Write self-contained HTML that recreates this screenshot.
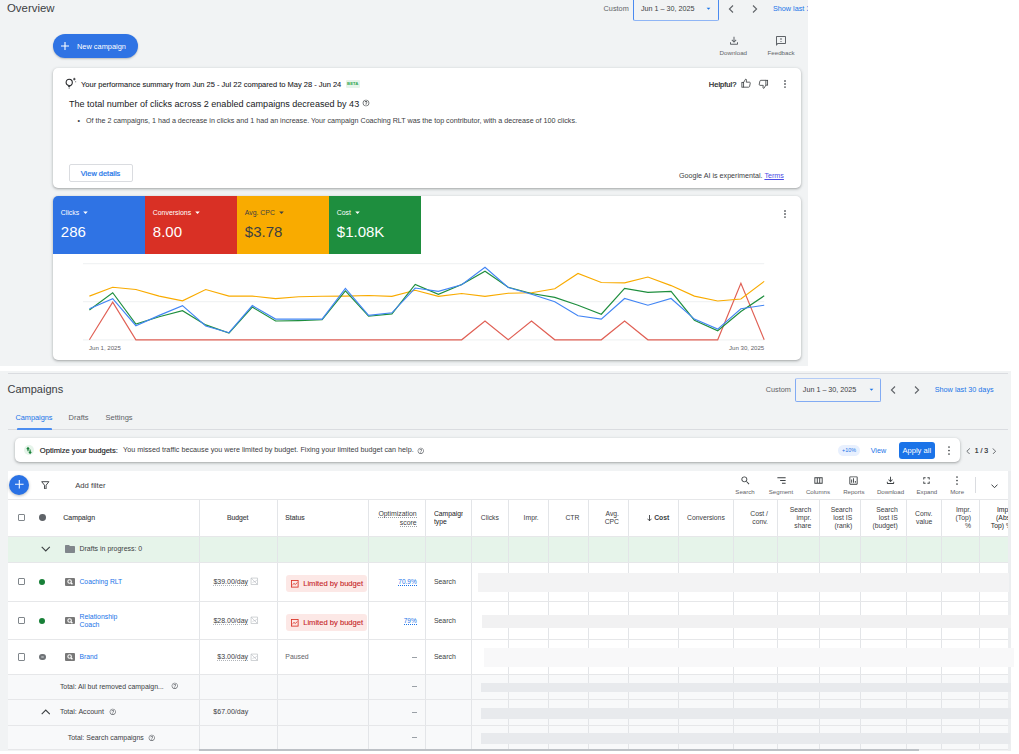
<!DOCTYPE html>
<html><head><meta charset="utf-8">
<style>
*{box-sizing:border-box;margin:0;padding:0}
html,body{width:1019px;height:754px;overflow:hidden;background:#fff;font-family:"Liberation Sans",sans-serif;color:#3c4043}
.a{position:absolute}
.t{position:absolute;white-space:nowrap;line-height:10px;height:10px}
svg{display:block}
#top{position:absolute;left:0;top:0;width:808px;height:366px;background:#f1f3f4;overflow:hidden}
#bot{position:absolute;left:0;top:371px;width:1010.6px;height:379.6px;background:#f1f3f4}
.card{position:absolute;background:#fff;border-radius:5px;box-shadow:0 1px 2px rgba(60,64,67,.3),0 1px 3px 1px rgba(60,64,67,.12)}
.blue{color:#1a73e8}
.g5{color:#5f6368}
</style></head><body>

<!-- ============ TOP SECTION ============ -->
<div id="top">
  <div class="t" style="left:7px;top:2px;font-size:11.4px;line-height:12px;height:12px;color:#3c4043">Overview</div>

  <div class="t g5" style="left:603.6px;top:3.7px;font-size:7.3px">Custom</div>
  <div class="a" style="left:633px;top:-4px;width:86px;height:24.5px;border:1px solid #4a8af0;border-bottom-color:#8fb5f5;border-radius:2px;background:#f1f3f4"></div>
  <div class="t" style="left:641px;top:3.7px;font-size:7.2px;color:#3c4043">Jun 1 – 30, 2025</div>
  <svg class="a" style="left:704px;top:4px" width="9" height="9" viewBox="0 0 24 24"><path d="M7 10l5 5 5-5z" fill="#1a73e8"/></svg>
  <svg class="a" style="left:728px;top:4.5px" width="6" height="8" viewBox="0 0 6 8"><path d="M5 0.5L1.4 4 5 7.5" fill="none" stroke="#5f6368" stroke-width="1.1"/></svg><svg class="a" style="left:751.8px;top:4.5px" width="6" height="8" viewBox="0 0 6 8"><path d="M1 0.5L4.6 4 1 7.5" fill="none" stroke="#5f6368" stroke-width="1.1"/></svg>
  <div class="t blue" style="left:772.9px;top:3.7px;font-size:7.27px">Show last 30 days</div>

  <!-- download / feedback -->
  <svg class="a" style="left:727.8px;top:34.8px" width="12" height="12" viewBox="0 0 24 24"><path d="M12 15.6L7 10.6l1.4-1.45 2.6 2.6V3.6h2v8.15l2.6-2.6L17 10.6zM6 19.6c-.55 0-1.02-.2-1.41-.59C4.2 18.62 4 18.15 4 17.6v-3h2v3h12v-3h2v3c0 .55-.2 1.02-.59 1.41-.39.39-.86.59-1.41.59z" fill="#5f6368"/></svg>
  <div class="t g5" style="left:719.5px;top:48px;font-size:6.2px">Download</div>
  <svg class="a" style="left:775px;top:35px" width="12" height="12" viewBox="0 0 24 24"><path d="M20 2H4c-1.1 0-1.99.9-1.99 2L2 22l4-4h14c1.1 0 2-.9 2-2V4c0-1.1-.9-2-2-2zm0 14H5.17L4 17.17V4h16v12zM11 12h2v2h-2zm0-6h2v4h-2z" fill="#5f6368"/></svg>
  <div class="t g5" style="left:767.5px;top:48px;font-size:6.2px">Feedback</div>

  <!-- new campaign -->
  <div class="a" style="left:53px;top:34px;width:85px;height:24px;border-radius:12px;background:#2f73e4;box-shadow:0 1px 2px rgba(60,64,67,.3)"></div>
  <svg class="a" style="left:61px;top:42.4px" width="8" height="8" viewBox="0 0 8 8"><path d="M4 0v8M0 4h8" stroke="#fff" stroke-width="1.1"/></svg>
  <div class="t" style="left:77px;top:41.5px;font-size:7.4px;color:#fff">New campaign</div>

  <!-- AI card -->
  <div class="card" style="left:53px;top:68px;width:747.5px;height:120px"></div>
  <svg class="a" style="left:64px;top:77px" width="14" height="13" viewBox="0 0 14 13"><circle cx="5.2" cy="5.4" r="3.1" fill="none" stroke="#202124" stroke-width="1.05"/><path d="M3.8 8.1h2.8l-.45 2H4.25z" fill="#3c4043"/><path d="M4.6 11h1.2" stroke="#3c4043" stroke-width="0.9"/><path d="M10.3 0.8v2.6M9 2.1h2.6" stroke="#202124" stroke-width="0.8"/><circle cx="11.7" cy="4.7" r="0.5" fill="#3c4043"/></svg>
  <div class="t" style="left:81px;top:79.8px;font-size:7.5px;color:#202124;-webkit-text-stroke:0.08px #202124">Your performance summary from Jun 25 - Jul 22 compared to May 28 - Jun 24</div>
  <div class="a" style="left:345.8px;top:79.9px;width:13.9px;height:7.9px;background:#e6f4ea;border-radius:1px"></div><div class="t" style="left:345.8px;width:13.9px;text-align:center;top:78.6px;font-size:4.3px;font-weight:700;color:#34a853">BETA</div>
  <div class="t" style="left:69px;top:98.5px;font-size:9.05px;color:#202124">The total number of clicks across 2 enabled campaigns decreased by 43</div>
  <svg class="a" style="left:361.5px;top:98.5px" width="8" height="8" viewBox="0 0 24 24"><path d="M11 18h2v-2h-2v2zm1-16C6.48 2 2 6.48 2 12s4.48 10 10 10 10-4.48 10-10S17.52 2 12 2zm0 18c-4.41 0-8-3.59-8-8s3.59-8 8-8 8 3.59 8 8-3.59 8-8 8zm0-14c-2.21 0-4 1.79-4 4h2c0-1.1.9-2 2-2s2 .9 2 2c0 2-3 1.75-3 5h2c0-2.25 3-2.5 3-5 0-2.21-1.79-4-4-4z" fill="#3c4043"/></svg>
  <div class="t" style="left:77.5px;top:116.2px;font-size:7.17px;color:#3c4043">•&nbsp;&nbsp;&nbsp;Of the 2 campaigns, 1 had a decrease in clicks and 1 had an increase. Your campaign Coaching RLT was the top contributor, with a decrease of 100 clicks.</div>

  <div class="a" style="left:68.6px;top:164.2px;width:64px;height:17.7px;border:1px solid #dadce0;border-radius:2px"></div>
  <div class="t blue" style="left:80.8px;top:168.8px;font-size:7.43px;-webkit-text-stroke:0.2px #1a73e8">View details</div>

  <div class="t" style="left:679px;top:171px;font-size:7.17px;color:#3c4043">Google AI is experimental. <span style="color:#4c4ce6;text-decoration:underline">Terms</span></div>

  <div class="t" style="left:708.8px;top:79.8px;font-size:7.5px;color:#202124;-webkit-text-stroke:0.2px #202124">Helpful?</div>
  <svg class="a" style="left:741px;top:78.3px" width="10.5" height="10.5" viewBox="0 0 24 24"><rect x="2" y="10" width="4" height="11" fill="none" stroke="#3c4043" stroke-width="1.9"/><path d="M6 10L10.5 2.6c1.4 0 2.5 1 2.2 2.5L12 9.5h7.4c1.2 0 2 1 1.8 2.2l-1.5 7.4c-.2 1.1-1.1 1.9-2.2 1.9H6" fill="none" stroke="#3c4043" stroke-width="1.9" stroke-linejoin="round"/></svg><svg class="a" style="left:758.2px;top:79.3px;transform:rotate(180deg)" width="10.5" height="10.5" viewBox="0 0 24 24"><rect x="2" y="10" width="4" height="11" fill="none" stroke="#3c4043" stroke-width="1.9"/><path d="M6 10L10.5 2.6c1.4 0 2.5 1 2.2 2.5L12 9.5h7.4c1.2 0 2 1 1.8 2.2l-1.5 7.4c-.2 1.1-1.1 1.9-2.2 1.9H6" fill="none" stroke="#3c4043" stroke-width="1.9" stroke-linejoin="round"/></svg>
  <svg class="a" style="left:782.90px;top:78.80px" width="4" height="10.10" viewBox="0 0 4 10.10"><circle cx="2" cy="2" r="0.95" fill="#5f6368"/><circle cx="2" cy="5.05" r="0.95" fill="#5f6368"/><circle cx="2" cy="8.10" r="0.95" fill="#5f6368"/></svg>

  <!-- Chart card -->
  <div class="card" style="left:53px;top:196px;width:747.5px;height:164px;overflow:hidden">
    <div class="a" style="left:0;top:0;width:92px;height:58px;background:#2f73e4"></div>
    <div class="a" style="left:92px;top:0;width:92px;height:58px;background:#d93025"></div>
    <div class="a" style="left:184px;top:0;width:92px;height:58px;background:#f9ab00"></div>
    <div class="a" style="left:276px;top:0;width:91.5px;height:58px;background:#1e8e3e"></div>
  </div>
  <div id="tiles"><div class="t" style="left:60.8px;top:206.8px;font-size:6.9px;color:#fff">Clicks<svg style="display:inline-block;vertical-align:-3px;margin-left:1px" width="11" height="11" viewBox="0 0 24 24"><path d="M7 10l5 5 5-5z" fill="#fff"/></svg></div><div class="t" style="left:60.8px;top:224.1px;font-size:15px;line-height:16px;height:16px;color:#fff">286</div><div class="t" style="left:152.8px;top:206.8px;font-size:6.9px;color:#fff">Conversions<svg style="display:inline-block;vertical-align:-3px;margin-left:1px" width="11" height="11" viewBox="0 0 24 24"><path d="M7 10l5 5 5-5z" fill="#fff"/></svg></div><div class="t" style="left:152.8px;top:224.1px;font-size:15px;line-height:16px;height:16px;color:#fff">8.00</div><div class="t" style="left:244.8px;top:206.8px;font-size:6.9px;color:#3c4043">Avg. CPC<svg style="display:inline-block;vertical-align:-3px;margin-left:1px" width="11" height="11" viewBox="0 0 24 24"><path d="M7 10l5 5 5-5z" fill="#3c4043"/></svg></div><div class="t" style="left:244.8px;top:224.1px;font-size:15px;line-height:16px;height:16px;color:#3c4043">$3.78</div><div class="t" style="left:336.8px;top:206.8px;font-size:6.9px;color:#fff">Cost<svg style="display:inline-block;vertical-align:-3px;margin-left:1px" width="11" height="11" viewBox="0 0 24 24"><path d="M7 10l5 5 5-5z" fill="#fff"/></svg></div><div class="t" style="left:336.8px;top:224.1px;font-size:15px;line-height:16px;height:16px;color:#fff">$1.08K</div></div>
  <svg class="a" style="left:782.90px;top:208.80px" width="4" height="10.10" viewBox="0 0 4 10.10"><circle cx="2" cy="2" r="0.95" fill="#5f6368"/><circle cx="2" cy="5.05" r="0.95" fill="#5f6368"/><circle cx="2" cy="8.10" r="0.95" fill="#5f6368"/></svg>
  <div id="chart"><svg class="a" style="left:0;top:0" width="808" height="366"><line x1="83" y1="263.7" x2="764.2" y2="263.7" stroke="#f1f3f4" stroke-width="1.2"/><line x1="83" y1="301.7" x2="764.2" y2="301.7" stroke="#f1f3f4" stroke-width="1.2"/><line x1="83" y1="339.8" x2="764.2" y2="339.8" stroke="#f1f3f4" stroke-width="1.2"/><polyline points="89.4,339.8 112.7,302.1 135.9,339.8 159.2,339.8 182.5,339.8 205.7,339.8 229.0,339.8 252.3,339.8 275.6,339.8 298.8,339.8 322.1,339.8 345.4,339.8 368.6,339.8 391.9,339.8 415.2,339.8 438.4,339.8 461.7,339.8 485.0,321.0 508.2,339.8 531.5,321.0 554.8,339.8 578.0,339.8 601.3,339.8 624.6,321.0 647.9,339.8 671.1,339.8 694.4,339.8 717.7,339.8 740.9,283.3 764.2,339.8" fill="none" stroke="#e06055" stroke-width="1.15" stroke-linejoin="miter"/><polyline points="89.4,296.1 112.7,287.3 135.9,289.5 159.2,296.1 182.5,300.8 205.7,289.5 229.0,296.1 252.3,296.1 275.6,298.6 298.8,296.8 322.1,296.3 345.4,296.1 368.6,295.5 391.9,296.3 415.2,290.3 438.4,296.3 461.7,293.5 485.0,296.3 508.2,293.2 531.5,292.7 554.8,288.8 578.0,273.4 601.3,282.5 624.6,282.8 647.9,277.0 671.1,285.6 694.4,296.1 717.7,301.0 740.9,299.0 764.2,281.4" fill="none" stroke="#f9ab00" stroke-width="1.15" stroke-linejoin="miter"/><polyline points="89.4,310.0 112.7,292.7 135.9,324.1 159.2,316.7 182.5,310.7 205.7,324.9 229.0,333.0 252.3,307.1 275.6,321.0 298.8,320.6 322.1,319.7 345.4,290.8 368.6,316.2 391.9,313.9 415.2,284.4 438.4,294.3 461.7,284.5 485.0,271.2 508.2,287.2 531.5,293.5 554.8,297.4 578.0,305.2 601.3,314.2 624.6,288.4 647.9,292.4 671.1,291.4 694.4,320.2 717.7,330.8 740.9,311.5 764.2,295.8" fill="none" stroke="#1e8e3e" stroke-width="1.15" stroke-linejoin="miter"/><polyline points="89.4,308.7 112.7,298.6 135.9,325.7 159.2,315.4 182.5,305.6 205.7,326.0 229.0,332.7 252.3,305.6 275.6,319.1 298.8,319.1 322.1,319.1 345.4,288.3 368.6,315.4 391.9,312.8 415.2,288.0 438.4,291.4 461.7,284.8 485.0,267.2 508.2,287.5 531.5,294.3 554.8,301.8 578.0,315.8 601.3,319.1 624.6,298.5 647.9,305.2 671.1,298.5 694.4,319.1 717.7,329.1 740.9,308.7 764.2,305.2" fill="none" stroke="#4285f4" stroke-width="1.15" stroke-linejoin="miter"/></svg></div>
  <div class="t g5" style="left:89px;top:342.6px;font-size:6.1px">Jun 1, 2025</div>
  <div class="t g5" style="left:729px;top:342.8px;font-size:6.1px">Jun 30, 2025</div>
</div>

<!-- ============ BOTTOM SECTION ============ -->
<div id="bot">
<div class="a" style="left:7.5px;top:1.8px;width:1000.5px;height:1.0px;background:#dadce0"></div>
<div class="t" style="left:7.5px;top:11.9px;font-size:11px;line-height:12px;height:12px;color:#3c4043;font-weight:400;">Campaigns</div>
<div class="t" style="left:765.8px;top:13.6px;font-size:7.3px;line-height:10px;height:10px;color:#5f6368;font-weight:400;">Custom</div>
<div class="a" style="left:795.2px;top:7.0px;width:85.4px;height:23.6px;border:1px solid #82abf3;border-top-color:#b3cbf6;border-radius:2px"></div>
<div class="t" style="left:802.8px;top:13.6px;font-size:7.2px;line-height:10px;height:10px;color:#3c4043;font-weight:400;">Jun 1 – 30, 2025</div>
<svg class="a" style="left:866.5px;top:14.2px" width="9" height="9" viewBox="0 0 24 24"><path d="M7 10l5 5 5-5z" fill="#1a73e8"/></svg>
<svg class="a" style="left:890px;top:14.600000000000023px" width="6" height="8" viewBox="0 0 6 8"><path d="M5 0.5L1.4 4 5 7.5" fill="none" stroke="#5f6368" stroke-width="1.1"/></svg>
<svg class="a" style="left:913.6px;top:14.600000000000023px" width="6" height="8" viewBox="0 0 6 8"><path d="M1 0.5L4.6 4 1 7.5" fill="none" stroke="#5f6368" stroke-width="1.1"/></svg>
<div class="t" style="left:934.7px;top:13.7px;font-size:7.27px;line-height:10px;height:10px;color:#1a73e8;font-weight:400;">Show last 30 days</div>
<div class="t" style="left:15.4px;top:41.7px;font-size:7.35px;line-height:10px;height:10px;color:#1a73e8;font-weight:400;">Campaigns</div>
<div class="t" style="left:68.6px;top:41.7px;font-size:7.5px;line-height:10px;height:10px;color:#5f6368;font-weight:400;">Drafts</div>
<div class="t" style="left:105.5px;top:41.7px;font-size:7.5px;line-height:10px;height:10px;color:#5f6368;font-weight:400;">Settings</div>
<div class="a" style="left:7.5px;top:58.3px;width:1000.5px;height:1.0px;background:#dadce0"></div>
<div class="a" style="left:16.5px;top:56.8px;width:35.3px;height:2.0px;background:#4d8ef0;border-radius:1px 1px 0 0"></div>
<div class="card" style="left:15.3px;top:67.30000000000001px;width:945px;height:23.7px;border-radius:5px"></div>
<div class="a" style="left:23.5px;top:73.9px;width:10.2px;height:10.2px;background:#e6f4ea;border-radius:50%"></div>
<svg class="a" style="left:23.5px;top:73.89999999999998px" width="10.2" height="10.2" viewBox="0 0 10.2 10.2"><path d="M4 6.3V3.1M2.8 4.1L4 2.6 5.2 4.1" fill="none" stroke="#188038" stroke-width="1.1"/><path d="M6.1 4.6V7.9M4.9 6.8L6.1 8.3 7.3 6.8" fill="none" stroke="#188038" stroke-width="1.1"/></svg>
<div class="t" style="left:39.8px;top:74.6px;font-size:7.6px;line-height:10px;height:10px;color:#202124;font-weight:400;-webkit-text-stroke:0.15px #202124">Optimize your budgets:</div>
<div class="t" style="left:123.0px;top:74.3px;font-size:7.21px;line-height:10px;height:10px;color:#3c4043;font-weight:400;">You missed traffic because you were limited by budget. Fixing your limited budget can help.</div>
<svg class="a" style="left:416.7px;top:75.5px" width="7.5" height="7.5" viewBox="0 0 24 24"><path d="M11 18h2v-2h-2v2zm1-16C6.48 2 2 6.48 2 12s4.48 10 10 10 10-4.48 10-10S17.52 2 12 2zm0 18c-4.41 0-8-3.59-8-8s3.59-8 8-8 8 3.59 8 8-3.59 8-8 8zm0-14c-2.21 0-4 1.79-4 4h2c0-1.1.9-2 2-2s2 .9 2 2c0 2-3 1.75-3 5h2c0-2.25 3-2.5 3-5 0-2.21-1.79-4-4-4z" fill="#5f6368"/></svg>
<div class="a" style="left:837.7px;top:73.9px;width:22.8px;height:11.5px;background:#e8f0fe;border-radius:6px"></div>
<div class="t" style="left:837.7px;width:22.8px;text-align:center;top:73.9px;font-size:5.4px;color:#1a73e8">+10%</div>
<div class="t" style="left:870.7px;top:75.1px;font-size:7.21px;line-height:10px;height:10px;color:#1a73e8;font-weight:400;">View</div>
<div class="a" style="left:898.9px;top:70.5px;width:35.8px;height:17.7px;background:#1a73e8;border-radius:3px"></div>
<div class="t" style="left:902.4px;top:74.5px;font-size:7.6px;line-height:10px;height:10px;color:#fff;font-weight:400;">Apply all</div>
<svg class="a" style="left:946.60px;top:73.90px" width="4" height="11.00" viewBox="0 0 4 11.00"><circle cx="2" cy="2" r="0.85" fill="#3c4043"/><circle cx="2" cy="5.50" r="0.85" fill="#3c4043"/><circle cx="2" cy="9.00" r="0.85" fill="#3c4043"/></svg>
<svg class="a" style="left:966.3px;top:76.5px" width="4.5" height="6.6" viewBox="0 0 4.5 6.6"><path d="M3.9 0.4L0.8 3.3 3.9 6.2" fill="none" stroke="#5f6368" stroke-width="0.9"/></svg>
<div class="t" style="left:974.8px;top:74.7px;font-size:6.9px;line-height:10px;height:10px;color:#202124;font-weight:400;-webkit-text-stroke:0.15px #202124">1 / 3</div>
<svg class="a" style="left:991.7px;top:76.5px" width="4.5" height="6.6" viewBox="0 0 4.5 6.6"><path d="M0.6 0.4L3.7 3.3 0.6 6.2" fill="none" stroke="#5f6368" stroke-width="0.9"/></svg>
<div class="a" style="left:7.5px;top:99.5px;width:1000.5px;height:28.8px;background:#fff"></div>
<div class="a" style="left:9.2px;top:103.5px;width:20.0px;height:20.0px;background:#2a72e5;border-radius:50%;box-shadow:0 1px 3px rgba(60,64,67,.35)"></div>
<svg class="a" style="left:15px;top:109px" width="8.6" height="8.6" viewBox="0 0 8.6 8.6"><path d="M4.3 0v8.6M0 4.3h8.6" stroke="#fff" stroke-width="1.05"/></svg>
<svg class="a" style="left:41.3px;top:109.5px" width="8.6" height="8.6" viewBox="0 0 8.6 8.6"><path d="M0.7 0.7H7.9L5.1 4.2V7.9H3.5V4.2Z" fill="none" stroke="#3c4043" stroke-width="0.95" stroke-linejoin="round"/></svg>
<div class="t" style="left:75.2px;top:109.5px;font-size:7.7px;line-height:10px;height:10px;color:#3c4043;font-weight:400;">Add filter</div>
<svg class="a" style="left:739.5px;top:104.0px" width="11" height="11" viewBox="0 0 24 24"><path d="M15.5 14h-.79l-.28-.27C15.41 12.59 16 11.11 16 9.5 16 5.91 13.09 3 9.5 3S3 5.91 3 9.5 5.91 16 9.5 16c1.61 0 3.09-.59 4.23-1.57l.27.28v.79l5 4.99L20.49 19l-4.99-5zm-6 0C7.01 14 5 11.99 5 9.5S7.01 5 9.5 5 14 7.01 14 9.5 11.99 14 9.5 14z" fill="#3c4043"/></svg>
<div class="t" style="left:725.0px;width:40px;text-align:center;top:116.0px;font-size:6.1px;color:#5f6368">Search</div>
<svg class="a" style="left:775.5px;top:104.0px" width="11" height="11" viewBox="0 0 24 24"><path d="M3 5h18v2H3zM9 11h12v2H9zM13 17h8v2h-8z" fill="#3c4043"/></svg>
<div class="t" style="left:761.0px;width:40px;text-align:center;top:116.0px;font-size:6.1px;color:#5f6368">Segment</div>
<svg class="a" style="left:812.5px;top:104.0px" width="11" height="11" viewBox="0 0 24 24"><path d="M3 5v14h18V5H3zm5.33 12H5V7h3.33v10zm5.34 0h-3.34V7h3.34v10zM19 17h-3.33V7H19v10z" fill="#3c4043"/></svg>
<div class="t" style="left:798.0px;width:40px;text-align:center;top:116.0px;font-size:6.1px;color:#5f6368">Columns</div>
<svg class="a" style="left:848.3px;top:104.0px" width="11" height="11" viewBox="0 0 24 24"><path d="M19 3H5c-1.1 0-2 .9-2 2v14c0 1.1.9 2 2 2h14c1.1 0 2-.9 2-2V5c0-1.1-.9-2-2-2zm0 16H5V5h14v14zM7 10h2v7H7zm4-3h2v10h-2zm4 6h2v4h-2z" fill="#3c4043"/></svg>
<div class="t" style="left:833.8px;width:40px;text-align:center;top:116.0px;font-size:6.1px;color:#5f6368">Reports</div>
<svg class="a" style="left:885.0px;top:104.0px" width="11" height="11" viewBox="0 0 24 24"><path d="M12 15.6L7 10.6l1.4-1.45 2.6 2.6V3.6h2v8.15l2.6-2.6L17 10.6zM6 19.6c-.55 0-1.02-.2-1.41-.59C4.2 18.62 4 18.15 4 17.6v-3h2v3h12v-3h2v3c0 .55-.2 1.02-.59 1.41-.39.39-.86.59-1.41.59z" fill="#3c4043"/></svg>
<div class="t" style="left:870.5px;width:40px;text-align:center;top:116.0px;font-size:6.1px;color:#5f6368">Download</div>
<svg class="a" style="left:921.4px;top:104.0px" width="11" height="11" viewBox="0 0 24 24"><path d="M7 14H5v5h5v-2H7v-3zm-2-4h2V7h3V5H5v5zm12 7h-3v2h5v-5h-2v3zM14 5v2h3v3h2V5h-5z" fill="#3c4043"/></svg>
<div class="t" style="left:906.9px;width:40px;text-align:center;top:116.0px;font-size:6.1px;color:#5f6368">Expand</div>
<svg class="a" style="left:955.40px;top:103.70px" width="4" height="11.00" viewBox="0 0 4 11.00"><circle cx="2" cy="2" r="0.85" fill="#3c4043"/><circle cx="2" cy="5.50" r="0.85" fill="#3c4043"/><circle cx="2" cy="9.00" r="0.85" fill="#3c4043"/></svg>
<div class="t" style="left:937.1px;width:40px;text-align:center;top:116.0px;font-size:6.1px;color:#5f6368">More</div>
<div class="a" style="left:974.9px;top:105.7px;width:1.0px;height:16.2px;background:#dadce0"></div>
<svg class="a" style="left:990.6px;top:112.60000000000002px" width="7" height="4.6" viewBox="0 0 7 4.6"><path d="M0.5 0.6L3.5 3.7 6.5 0.6" fill="none" stroke="#3c4043" stroke-width="1"/></svg>
<div class="a" style="left:7.5px;top:128.3px;width:1000.5px;height:174.7px;background:#fff"></div>
<div class="a" style="left:7.5px;top:165.0px;width:1000.5px;height:26.4px;background:#e6f4ea"></div>
<div class="a" style="left:7.5px;top:303.0px;width:1000.5px;height:75.5px;background:#f8f9fa"></div>
<div class="a" style="left:198.9px;top:128.3px;width:1.0px;height:250.2px;background:#e3e5e8"></div>
<div class="a" style="left:276.9px;top:128.3px;width:1.0px;height:250.2px;background:#e3e5e8"></div>
<div class="a" style="left:368.2px;top:128.3px;width:1.0px;height:250.2px;background:#e3e5e8"></div>
<div class="a" style="left:424.8px;top:128.3px;width:1.0px;height:250.2px;background:#e3e5e8"></div>
<div class="a" style="left:471.1px;top:128.3px;width:1.0px;height:250.2px;background:#e3e5e8"></div>
<div class="a" style="left:508.1px;top:128.3px;width:1.0px;height:250.2px;background:#e3e5e8"></div>
<div class="a" style="left:548.0px;top:128.3px;width:1.0px;height:250.2px;background:#e3e5e8"></div>
<div class="a" style="left:587.9px;top:128.3px;width:1.0px;height:250.2px;background:#e3e5e8"></div>
<div class="a" style="left:628.0px;top:128.3px;width:1.0px;height:250.2px;background:#e3e5e8"></div>
<div class="a" style="left:678.0px;top:128.3px;width:1.0px;height:250.2px;background:#e3e5e8"></div>
<div class="a" style="left:732.9px;top:128.3px;width:1.0px;height:250.2px;background:#e3e5e8"></div>
<div class="a" style="left:777.2px;top:128.3px;width:1.0px;height:250.2px;background:#e3e5e8"></div>
<div class="a" style="left:819.3px;top:128.3px;width:1.0px;height:250.2px;background:#e3e5e8"></div>
<div class="a" style="left:860.1px;top:128.3px;width:1.0px;height:250.2px;background:#e3e5e8"></div>
<div class="a" style="left:906.1px;top:128.3px;width:1.0px;height:250.2px;background:#e3e5e8"></div>
<div class="a" style="left:941.1px;top:128.3px;width:1.0px;height:250.2px;background:#e3e5e8"></div>
<div class="a" style="left:979.1px;top:128.3px;width:1.0px;height:250.2px;background:#e3e5e8"></div>
<div class="a" style="left:7.5px;top:127.8px;width:1000.5px;height:1.0px;background:#e6e7e9"></div>
<div class="a" style="left:7.5px;top:164.5px;width:1000.5px;height:1.0px;background:#e6e7e9"></div>
<div class="a" style="left:7.5px;top:190.9px;width:1000.5px;height:1.0px;background:#e6e7e9"></div>
<div class="a" style="left:7.5px;top:230.1px;width:1000.5px;height:1.0px;background:#e6e7e9"></div>
<div class="a" style="left:7.5px;top:268.1px;width:1000.5px;height:1.0px;background:#e6e7e9"></div>
<div class="a" style="left:7.5px;top:302.5px;width:1000.5px;height:1.0px;background:#e6e7e9"></div>
<div class="a" style="left:7.5px;top:327.9px;width:1000.5px;height:1.0px;background:#e6e7e9"></div>
<div class="a" style="left:7.5px;top:354.0px;width:1000.5px;height:1.0px;background:#e6e7e9"></div>
<div class="a" style="left:7.5px;top:378.0px;width:1000.5px;height:1.0px;background:#e6e7e9"></div>
<div class="a" style="left:1008.0px;top:99.5px;width:2.6px;height:280.1px;background:#eceef0"></div>
<div class="a" style="left:18.0px;top:143.3px;width:7.2px;height:7.2px;border:1px solid #80868b;border-radius:1px"></div>
<div class="a" style="left:39.0px;top:143.3px;width:6.8px;height:6.8px;background:#5f6368;border-radius:50%"></div>
<div class="t" style="left:63.2px;top:142.0px;font-size:7.0px;line-height:10px;height:10px;color:#3c4043;font-weight:400;-webkit-text-stroke:0.12px #3c4043">Campaign</div>
<div class="t" style="right:762.1px;top:142.0px;font-size:6.8px;line-height:10px;height:10px;color:#3c4043;font-weight:400;-webkit-text-stroke:0.12px #3c4043">Budget</div>
<div class="t" style="left:285.3px;top:142.0px;font-size:6.8px;line-height:10px;height:10px;color:#3c4043;font-weight:400;-webkit-text-stroke:0.12px #3c4043">Status</div>
<div class="t" style="right:593.9px;top:142.5px;font-size:6.9px;line-height:9px;height:9px;color:#3c4043;font-weight:400;height:18px;text-align:right;margin-top:-4.5px"><span style="border-bottom:1px dotted #9aa0a6">Optimization</span><br><span style="border-bottom:1px dotted #9aa0a6">score</span></div>
<div class="t" style="left:433.9px;top:138.7px;width:29.5px;overflow:hidden;font-size:6.8px;line-height:8px;height:17px;color:#202124">Campaign<br>type</div>
<div class="t" style="right:511.7px;top:143.0px;font-size:6.8px;line-height:8.1px;height:8.1px;text-align:right;color:#3c4043;font-weight:400">Clicks</div>
<div class="t" style="right:471.9px;top:143.0px;font-size:6.8px;line-height:8.1px;height:8.1px;text-align:right;color:#3c4043;font-weight:400">Impr.</div>
<div class="t" style="right:431.2px;top:143.0px;font-size:6.8px;line-height:8.1px;height:8.1px;text-align:right;color:#3c4043;font-weight:400">CTR</div>
<div class="t" style="right:391.6px;top:138.9px;font-size:6.8px;line-height:8.1px;height:16.2px;text-align:right;color:#3c4043;font-weight:400">Avg.<br>CPC</div>
<div class="t" style="right:341.3px;top:143.0px;font-size:6.8px;line-height:8.1px;height:8.1px;text-align:right;color:#3c4043;font-weight:700"><svg style="display:inline-block;vertical-align:-1px;margin-right:2.6px" width="5" height="6.5" viewBox="0 0 5 6.5"><path d="M2.5 0v5.8M0.4 3.7L2.5 5.8 4.6 3.7" fill="none" stroke="#3c4043" stroke-width="0.9"/></svg>Cost</div>
<div class="t" style="right:285.8px;top:143.0px;font-size:6.8px;line-height:8.1px;height:8.1px;text-align:right;color:#3c4043;font-weight:400">Conversions</div>
<div class="t" style="right:242.6px;top:138.9px;font-size:6.8px;line-height:8.1px;height:16.2px;text-align:right;color:#3c4043;font-weight:400">Cost /<br>conv.</div>
<div class="t" style="right:199.3px;top:134.9px;font-size:6.8px;line-height:8.1px;height:24.299999999999997px;text-align:right;color:#3c4043;font-weight:400">Search<br>impr.<br>share</div>
<div class="t" style="right:158.4px;top:134.9px;font-size:6.8px;line-height:8.1px;height:24.299999999999997px;text-align:right;color:#3c4043;font-weight:400">Search<br>lost IS<br>(rank)</div>
<div class="t" style="right:112.9px;top:134.9px;font-size:6.8px;line-height:8.1px;height:24.299999999999997px;text-align:right;color:#3c4043;font-weight:400">Search<br>lost IS<br>(budget)</div>
<div class="t" style="right:78.3px;top:138.9px;font-size:6.8px;line-height:8.1px;height:16.2px;text-align:right;color:#3c4043;font-weight:400">Conv.<br>value</div>
<div class="t" style="right:39.5px;top:134.9px;font-size:6.8px;line-height:8.1px;height:24.299999999999997px;text-align:right;color:#3c4043;font-weight:400">Impr.<br>(Top)<br>%</div>
<div class="a" style="left:979.6px;top:0;width:28.4px;height:383px;overflow:hidden"><div class="t" style="left:-10px;width:42.4px;top:134.9px;font-size:6.8px;line-height:8.1px;height:24.3px;text-align:right;color:#202124">Impr.<br>(Abs.<br>Top) %</div></div>
<svg class="a" style="left:41px;top:174.60000000000002px" width="9.5" height="6" viewBox="0 0 9.5 6"><path d="M0.7 0.8L4.75 4.9 8.8 0.8" fill="none" stroke="#3c4043" stroke-width="1.1"/></svg>
<svg class="a" style="left:63.6px;top:171.8px" width="12" height="12" viewBox="0 0 24 24"><path d="M10 4H4c-1.1 0-1.99.9-1.99 2L2 18c0 1.1.9 2 2 2h16c1.1 0 2-.9 2-2V8c0-1.1-.9-2-2-2h-8l-2-2z" fill="#80868b"/></svg>
<div class="t" style="left:79.5px;top:172.7px;font-size:6.98px;line-height:10px;height:10px;color:#3c4043;font-weight:400;">Drafts in progress: 0</div>
<div class="a" style="left:18.0px;top:207.0px;width:7.2px;height:7.2px;border:1px solid #80868b;border-radius:1px"></div>
<div class="a" style="left:39.1px;top:207.8px;width:6.4px;height:6.4px;background:#188038;border-radius:50%"></div>
<div class="a" style="left:64.6px;top:206.8px;width:10.1px;height:7.8px;background:#787878;border-radius:1px"></div>
<svg class="a" style="left:64.6px;top:206.8px" width="10.1" height="7.8" viewBox="0 0 10.1 7.8"><circle cx="4.6" cy="3.5" r="1.75" fill="none" stroke="#fff" stroke-width="1.1"/><path d="M5.9 4.8L7.4 6.3" stroke="#fff" stroke-width="1.3"/></svg>
<div class="t" style="left:79.5px;top:205.6px;font-size:6.75px;line-height:10px;height:10px;color:#1a73e8;font-weight:400;">Coaching RLT</div>
<div class="t" style="right:762.5px;top:205.6px;font-size:7px;color:#3c4043"><span style="border-bottom:1px dotted #b0b4b9">$39.00/day</span></div>
<svg class="a" style="left:250.3px;top:206.3px" width="8.6" height="8.6" viewBox="0 0 24 24"><path d="M3 3h18v18H3z" fill="none" stroke="#bdc1c6" stroke-width="2"/><path d="M3 3l18 18M7 17l4-5 3 2 5-6" fill="none" stroke="#bdc1c6" stroke-width="1.8"/></svg>
<div class="a" style="left:285.9px;top:204.2px;width:81.1px;height:17.2px;background:#fce8e6;border-radius:3px"></div>
<svg class="a" style="left:291.2px;top:209.3px" width="7.6" height="7.6" viewBox="0 0 8 8"><rect x="0.5" y="0.5" width="7" height="7" fill="none" stroke="#d93025" stroke-width="0.9"/><path d="M1.5 5.2L3.2 3.6 4.6 4.8 6.6 2.6" fill="none" stroke="#d93025" stroke-width="0.9"/></svg>
<div class="t" style="left:303.2px;top:208.1px;font-size:7.6px;line-height:10px;height:10px;color:#c5221f;font-weight:400;-webkit-text-stroke:0.1px #c5221f">Limited by budget</div>
<div class="t" style="right:593.9px;top:205.6px;font-size:6.5px;color:#1a73e8"><span style="border-bottom:1px dotted #1a73e8">70.9%</span></div>
<div class="t" style="left:433.9px;top:205.6px;font-size:6.9px;line-height:10px;height:10px;color:#3c4043;font-weight:400;">Search</div>
<div class="a" style="left:478.3px;top:202.2px;width:531.2px;height:18.6px;background:#f3f3f4"></div>
<div class="a" style="left:18.0px;top:245.9px;width:7.2px;height:7.2px;border:1px solid #80868b;border-radius:1px"></div>
<div class="a" style="left:39.1px;top:246.7px;width:6.4px;height:6.4px;background:#188038;border-radius:50%"></div>
<div class="a" style="left:64.6px;top:245.7px;width:10.1px;height:7.8px;background:#787878;border-radius:1px"></div>
<svg class="a" style="left:64.6px;top:245.7px" width="10.1" height="7.8" viewBox="0 0 10.1 7.8"><circle cx="4.6" cy="3.5" r="1.75" fill="none" stroke="#fff" stroke-width="1.1"/><path d="M5.9 4.8L7.4 6.3" stroke="#fff" stroke-width="1.3"/></svg>
<div class="t" style="left:79.5px;top:241.5px;font-size:6.9px;line-height:8px;height:16px;color:#1a73e8">Relationship<br>Coach</div>
<div class="t" style="right:762.5px;top:244.5px;font-size:7px;color:#3c4043"><span style="border-bottom:1px dotted #b0b4b9">$28.00/day</span></div>
<svg class="a" style="left:250.3px;top:245.2px" width="8.6" height="8.6" viewBox="0 0 24 24"><path d="M3 3h18v18H3z" fill="none" stroke="#bdc1c6" stroke-width="2"/><path d="M3 3l18 18M7 17l4-5 3 2 5-6" fill="none" stroke="#bdc1c6" stroke-width="1.8"/></svg>
<div class="a" style="left:285.9px;top:243.1px;width:81.1px;height:17.2px;background:#fce8e6;border-radius:3px"></div>
<svg class="a" style="left:291.2px;top:248.2px" width="7.6" height="7.6" viewBox="0 0 8 8"><rect x="0.5" y="0.5" width="7" height="7" fill="none" stroke="#d93025" stroke-width="0.9"/><path d="M1.5 5.2L3.2 3.6 4.6 4.8 6.6 2.6" fill="none" stroke="#d93025" stroke-width="0.9"/></svg>
<div class="t" style="left:303.2px;top:247.0px;font-size:7.6px;line-height:10px;height:10px;color:#c5221f;font-weight:400;-webkit-text-stroke:0.1px #c5221f">Limited by budget</div>
<div class="t" style="right:593.9px;top:244.5px;font-size:6.5px;color:#1a73e8"><span style="border-bottom:1px dotted #1a73e8">79%</span></div>
<div class="t" style="left:433.9px;top:244.5px;font-size:6.9px;line-height:10px;height:10px;color:#3c4043;font-weight:400;">Search</div>
<div class="a" style="left:482.1px;top:244.0px;width:528.7px;height:12.7px;background:#f1f1f2"></div>
<div class="a" style="left:18.0px;top:282.4px;width:7.2px;height:7.2px;border:1px solid #80868b;border-radius:1px"></div>
<div class="a" style="left:39.1px;top:282.8px;width:6.6px;height:6.6px;background:#6f7377;border-radius:50%"></div>
<div class="a" style="left:41.1px;top:284.8px;width:2.6px;height:2.6px;background:#a5a8ac;border-radius:50%"></div>
<div class="a" style="left:64.6px;top:282.2px;width:10.1px;height:7.8px;background:#787878;border-radius:1px"></div>
<svg class="a" style="left:64.6px;top:282.2px" width="10.1" height="7.8" viewBox="0 0 10.1 7.8"><circle cx="4.6" cy="3.5" r="1.75" fill="none" stroke="#fff" stroke-width="1.1"/><path d="M5.9 4.8L7.4 6.3" stroke="#fff" stroke-width="1.3"/></svg>
<div class="t" style="left:79.5px;top:281.0px;font-size:6.75px;line-height:10px;height:10px;color:#1a73e8;font-weight:400;">Brand</div>
<div class="t" style="right:762.5px;top:281.0px;font-size:7px;color:#3c4043"><span style="border-bottom:1px dotted #b0b4b9">$3.00/day</span></div>
<svg class="a" style="left:250.3px;top:281.7px" width="8.6" height="8.6" viewBox="0 0 24 24"><path d="M3 3h18v18H3z" fill="none" stroke="#bdc1c6" stroke-width="2"/><path d="M3 3l18 18M7 17l4-5 3 2 5-6" fill="none" stroke="#bdc1c6" stroke-width="1.8"/></svg>
<div class="t" style="left:285.3px;top:281.0px;font-size:6.9px;line-height:10px;height:10px;color:#5f6368;font-weight:400;">Paused</div>
<div class="a" style="left:412.0px;top:285.7px;width:4.8px;height:0.8px;background:#9aa0a6"></div>
<div class="t" style="left:433.9px;top:281.0px;font-size:6.9px;line-height:10px;height:10px;color:#3c4043;font-weight:400;">Search</div>
<div class="a" style="left:484.1px;top:276.7px;width:529.9px;height:19.8px;background:#f8f8f9"></div>
<div class="t" style="left:59.9px;top:310.8px;font-size:6.93px;line-height:10px;height:10px;color:#3c4043;font-weight:400;">Total: All but removed campaign...</div>
<svg class="a" style="left:171.3px;top:311.4px" width="7.5" height="7.5" viewBox="0 0 24 24"><path d="M11 18h2v-2h-2v2zm1-16C6.48 2 2 6.48 2 12s4.48 10 10 10 10-4.48 10-10S17.52 2 12 2zm0 18c-4.41 0-8-3.59-8-8s3.59-8 8-8 8 3.59 8 8-3.59 8-8 8zm0-14c-2.21 0-4 1.79-4 4h2c0-1.1.9-2 2-2s2 .9 2 2c0 2-3 1.75-3 5h2c0-2.25 3-2.5 3-5 0-2.21-1.79-4-4-4z" fill="#5f6368"/></svg>
<div class="a" style="left:412.0px;top:315.0px;width:4.8px;height:0.8px;background:#9aa0a6"></div>
<div class="a" style="left:480.7px;top:311.5px;width:530.8px;height:9.8px;background:#e8eaed"></div>
<svg class="a" style="left:40.8px;top:337.6px" width="9.5" height="6" viewBox="0 0 9.5 6"><path d="M0.7 5.2L4.75 1.1 8.8 5.2" fill="none" stroke="#3c4043" stroke-width="1.1"/></svg>
<div class="t" style="left:59.9px;top:335.8px;font-size:7.08px;line-height:10px;height:10px;color:#3c4043;font-weight:400;">Total: Account</div>
<svg class="a" style="left:108.6px;top:337.0px" width="7.5" height="7.5" viewBox="0 0 24 24"><path d="M11 18h2v-2h-2v2zm1-16C6.48 2 2 6.48 2 12s4.48 10 10 10 10-4.48 10-10S17.52 2 12 2zm0 18c-4.41 0-8-3.59-8-8s3.59-8 8-8 8 3.59 8 8-3.59 8-8 8zm0-14c-2.21 0-4 1.79-4 4h2c0-1.1.9-2 2-2s2 .9 2 2c0 2-3 1.75-3 5h2c0-2.25 3-2.5 3-5 0-2.21-1.79-4-4-4z" fill="#5f6368"/></svg>
<div class="t" style="left:213.3px;top:335.8px;font-size:7.05px;line-height:10px;height:10px;color:#3c4043;font-weight:400;">$67.00/day</div>
<div class="a" style="left:412.0px;top:340.6px;width:4.8px;height:0.8px;background:#9aa0a6"></div>
<div class="a" style="left:480.7px;top:336.5px;width:530.1px;height:11.8px;background:#e8eaed"></div>
<div class="t" style="left:67.7px;top:362.0px;font-size:6.96px;line-height:10px;height:10px;color:#3c4043;font-weight:400;">Total: Search campaigns</div>
<svg class="a" style="left:148.2px;top:362.6px" width="7.5" height="7.5" viewBox="0 0 24 24"><path d="M11 18h2v-2h-2v2zm1-16C6.48 2 2 6.48 2 12s4.48 10 10 10 10-4.48 10-10S17.52 2 12 2zm0 18c-4.41 0-8-3.59-8-8s3.59-8 8-8 8 3.59 8 8-3.59 8-8 8zm0-14c-2.21 0-4 1.79-4 4h2c0-1.1.9-2 2-2s2 .9 2 2c0 2-3 1.75-3 5h2c0-2.25 3-2.5 3-5 0-2.21-1.79-4-4-4z" fill="#5f6368"/></svg>
<div class="a" style="left:412.0px;top:366.2px;width:4.8px;height:0.8px;background:#9aa0a6"></div>
<div class="a" style="left:480.7px;top:361.6px;width:529.3px;height:11.4px;background:#e8eaed"></div>
<div class="a" style="left:199.4px;top:378.3px;width:720.1px;height:1.5px;background:#bdc1c6"></div>
</div><!--/bot-->

</body></html>
